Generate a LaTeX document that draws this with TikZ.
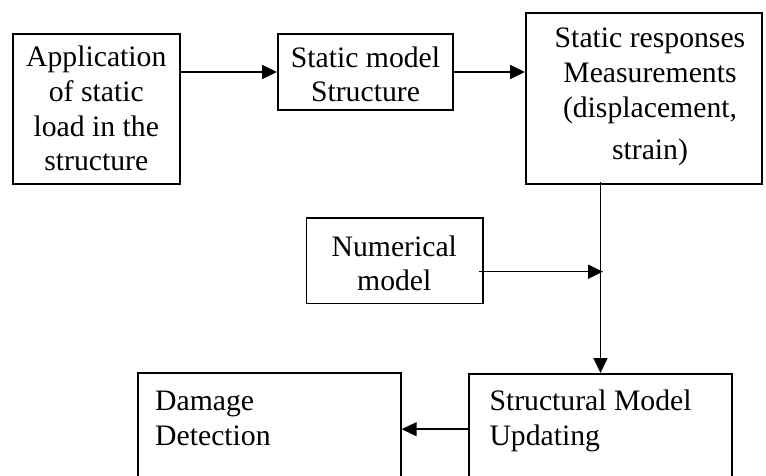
\documentclass[tikz,border=0pt]{standalone}
\usepackage{fontspec}
\setmainfont{Liberation Serif}
\usetikzlibrary{arrows.meta,calc}
\begin{document}
\begin{tikzpicture}[x=1pt,y=-1pt,
  box/.style={draw=black,line width=1.9pt,rectangle,inner sep=0pt,fill=none},
  txt/.style={inner sep=0pt,font=\fontsize{29.7}{34.7}\selectfont},
  arr/.style={line width=1.5pt,-{Triangle[length=15pt,width=14pt]}}]
\useasboundingbox (0,0) rectangle (766,476);
\clip (0,0) rectangle (766,476);
% boxes
\node[box,minimum width=167.3pt,minimum height=150.3pt] (b1) at (96.3,109.2) {};
\node[box,minimum width=174.7pt,minimum height=76pt] (b2) at (365.3,72) {};
\node[box,minimum width=236pt,minimum height=171pt] (b3) at (644,98.5) {};
\node[box,minimum width=176.2pt,minimum height=85.2pt] (b4) at (394.6,260.9) {};
\node[box,minimum width=263pt,minimum height=126pt] (b5) at (600.5,437) {};
\node[box,minimum width=262.7pt,minimum height=127pt] (b6) at (269.35,436.5) {};
% texts (anchor = baseline of last line)
\node[txt,align=center,anchor=base] (t1) at (96.3,171) {Application\\of static\\load in the\\structure};
\node[txt,align=center,anchor=base] (t2) at (365.5,102) {Static model\\Structure};
\node[txt,align=center,anchor=base] (t3) at (650,160) {Static responses\\Measurements\\(displacement,\\[8pt]strain)};
\node[txt,align=center,anchor=base] (t4) at (394.3,290.7) {Numerical\\model};
\node[txt,align=left,anchor=base west] (t5) at (489.3,445) {Structural Model\\Updating};
\node[txt,align=left,anchor=base west] (t6) at (155,445) {Damage\\Detection};
% connectors
\coordinate (m) at (600.7,271.7);
\coordinate (j) at (0,429.2);
\draw[arr] (b1.east |- b2.west) -- (b2.west);
\draw[arr] (b2.east) -- (b3.west |- b2.east);
\draw[arr] ([yshift=3pt]b3.south -| b5.north) -- (b5.north);
\draw[arr] ([xshift=-4.7pt]b4.east |- m) -- ([xshift=2.3pt]m);
\draw[arr] (b5.west |- j) -- (b6.east |- j);
\end{tikzpicture}
\end{document}
